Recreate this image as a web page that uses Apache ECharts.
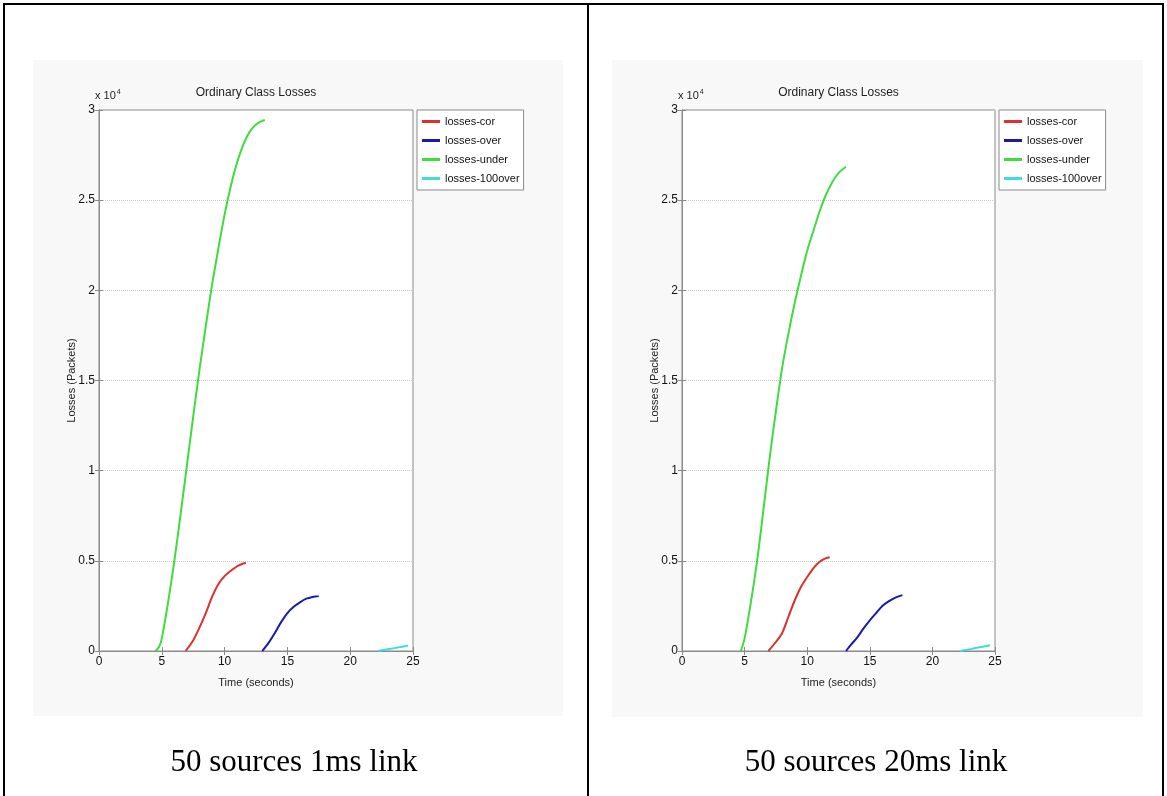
<!DOCTYPE html>
<html>
<head>
<meta charset="utf-8">
<script src="https://cdn.jsdelivr.net/npm/echarts@6/dist/echarts.min.js"></script>
<style>
  html, body { margin: 0; padding: 0; background: #fff; }
  #main { width: 1167px; height: 796px; }
</style>
</head>
<body>
<div id="main"></div>
<script>
// time (s) / losses (packets)
const seriesNames = ['losses-cor', 'losses-over', 'losses-under', 'losses-100over'];
const colors = ['#dd2f2f', '#1b1ba6', '#3fdc3f', '#3fdcdc'];
const yTicks = [0, 5000, 10000, 15000, 20000, 25000, 30000];
const captions = ['50 sources 1ms link', '50 sources 20ms link'];

// 50 sources, 1ms link
const corA = [[6.9, 0], [7.5, 600], [8, 1300], [8.5, 2100], [9, 3000], [9.5, 3700], [10, 4150], [10.5, 4450], [11, 4700], [11.5, 4850], [11.7, 4880]];
const overA = [[13, 0], [13.5, 450], [14, 1000], [14.5, 1600], [15, 2100], [15.5, 2450], [16, 2700], [16.5, 2900], [17, 3000], [17.5, 3050]];
const underA = [[4.5, 0], [4.8, 250], [5, 700], [5.5, 2700], [6, 5000], [6.5, 7600], [7, 10300], [7.5, 13000], [8, 15600], [8.5, 18000], [9, 20300], [9.5, 22300], [10, 24200], [10.5, 25800], [11, 27100], [11.5, 28100], [12, 28800], [12.5, 29200], [13, 29400], [13.2, 29450]];
const over100A = [[22.2, 0], [23, 100], [24, 220], [24.6, 300]];

// 50 sources, 20ms link
const corB = [[6.9, 0], [7.5, 500], [8, 1000], [8.5, 1900], [9, 2800], [9.5, 3550], [10, 4100], [10.5, 4600], [11, 4950], [11.5, 5150], [11.8, 5200]];
const overB = [[13.1, 0], [13.5, 350], [14, 750], [14.5, 1250], [15, 1700], [15.5, 2100], [16, 2500], [16.5, 2750], [17, 2950], [17.6, 3100]];
const underB = [[4.7, 0], [5, 700], [5.5, 2700], [6, 5000], [6.5, 7800], [7, 10700], [7.5, 13300], [8, 15700], [8.5, 17600], [9, 19300], [9.5, 20800], [10, 22200], [10.5, 23300], [11, 24400], [11.5, 25300], [12, 26000], [12.5, 26500], [13.1, 26850]];
const over100B = [[22.2, 0], [23, 100], [24, 230], [24.6, 320]];

const panels = [
  { left: 99, width: 314, data: [corA, overA, underA, over100A] },
  { left: 682, width: 313, data: [corB, overB, underB, over100B] }
];

const font = "'Liberation Sans', Arial, sans-serif";
const axisGray = '#8a8a8a';

const grid = [], xAxis = [], yAxis = [], series = [], legend = [], graphic = [];

// table frame and light grey picture backgrounds
graphic.push({ type: 'rect', shape: { x: 33, y: 60, width: 530, height: 656 }, style: { fill: '#f8f8f8' }, z: -10 });
graphic.push({ type: 'rect', shape: { x: 612, y: 60, width: 531, height: 657 }, style: { fill: '#f8f8f8' }, z: -10 });
graphic.push({ type: 'rect', shape: { x: 4, y: 4, width: 1159, height: 800 }, style: { fill: 'none', stroke: '#000', lineWidth: 2 }, z: 10 });
graphic.push({ type: 'line', shape: { x1: 588, y1: 4, x2: 588, y2: 800 }, style: { stroke: '#000', lineWidth: 2 }, z: 10 });

panels.forEach(function (p, i) {
  grid.push({ left: p.left, top: 110, width: p.width, height: 541, show: true, borderColor: axisGray, borderWidth: 1, backgroundColor: '#fff' });
  // bottom axis with labels
  xAxis.push({
    type: 'value', gridIndex: i, min: 0, max: 25, interval: 5, position: 'bottom',
    name: 'Time (seconds)', nameLocation: 'middle', nameGap: 26,
    nameTextStyle: { fontFamily: font, fontSize: 11, color: '#222' },
    axisLine: { show: true, lineStyle: { color: axisGray } },
    axisTick: { show: true, inside: true, length: 4, lineStyle: { color: axisGray } },
    axisLabel: { fontFamily: font, fontSize: 12, color: '#111', margin: 5 },
    splitLine: { show: false }
  });
  // top axis, ticks only
  xAxis.push({
    type: 'value', gridIndex: i, min: 0, max: 25, interval: 5, position: 'top',
    axisLine: { show: true, lineStyle: { color: axisGray } },
    axisTick: { show: true, inside: true, length: 4, lineStyle: { color: axisGray } },
    axisLabel: { show: false }, splitLine: { show: false }
  });
  yAxis.push({
    type: 'value', gridIndex: i, min: 0, max: 30000, interval: 5000, position: 'left',
    name: 'Losses (Packets)', nameLocation: 'middle', nameGap: 22, nameMoveOverlap: false,
    nameTextStyle: { fontFamily: font, fontSize: 11, color: '#222' },
    axisLine: { show: true, lineStyle: { color: axisGray } },
    axisTick: { show: true, inside: true, length: 4, lineStyle: { color: axisGray } },
    axisLabel: { fontFamily: font, fontSize: 12, color: '#111', margin: 4, formatter: function (v) { return yTicks.indexOf(v) >= 0 ? String(v / 10000) : ''; } },
    splitLine: { show: true, lineStyle: { color: '#c8c8c8', width: 1, type: [1, 1] } }
  });
  yAxis.push({
    type: 'value', gridIndex: i, min: 0, max: 30000, interval: 5000, position: 'right',
    axisLine: { show: true, lineStyle: { color: axisGray } },
    axisTick: { show: true, inside: true, length: 4, lineStyle: { color: axisGray } },
    axisLabel: { show: false }, splitLine: { show: false }
  });

  p.data.forEach(function (d, k) {
    series.push({
      name: seriesNames[k], type: 'line', xAxisIndex: i * 2, yAxisIndex: i * 2,
      data: d, smooth: 0.3, showSymbol: false, symbol: 'none',
      lineStyle: { color: colors[k], width: 2 }, itemStyle: { color: colors[k] }
    });
  });

  legend.push({
    data: seriesNames, orient: 'vertical', left: p.left + p.width + 4, top: 110,
    icon: 'rect', itemWidth: 18, itemHeight: 3, itemGap: 8,
    padding: [6, 4, 6, 5], borderColor: axisGray, borderWidth: 1, backgroundColor: '#fff',
    textStyle: { fontFamily: font, fontSize: 11, color: '#111' }
  });

  const cx = p.left + p.width / 2;
  graphic.push({ type: 'text', x: cx, y: 87, style: { text: 'Ordinary Class Losses', fontFamily: font, fontSize: 12, fill: '#222', align: 'center' } });
  graphic.push({ type: 'text', x: p.left - 4, y: 89, style: { text: 'x 10{s|4}', fontFamily: font, fontSize: 11, fill: '#222', rich: { s: { fontSize: 7, verticalAlign: 'top', padding: [0, 0, 6, 1] } } } });
  graphic.push({ type: 'text', x: i === 0 ? 294 : 876, y: 763, style: { text: captions[i], fontFamily: "'Liberation Serif', 'Times New Roman', serif", fontSize: 31, fill: '#000', align: 'center', verticalAlign: 'middle' } });
});

const chart = echarts.init(document.getElementById('main'));
chart.setOption({
  animation: false,
  backgroundColor: '#fff',
  grid: grid, xAxis: xAxis, yAxis: yAxis, series: series, legend: legend, graphic: graphic
});
</script>
</body>
</html>
